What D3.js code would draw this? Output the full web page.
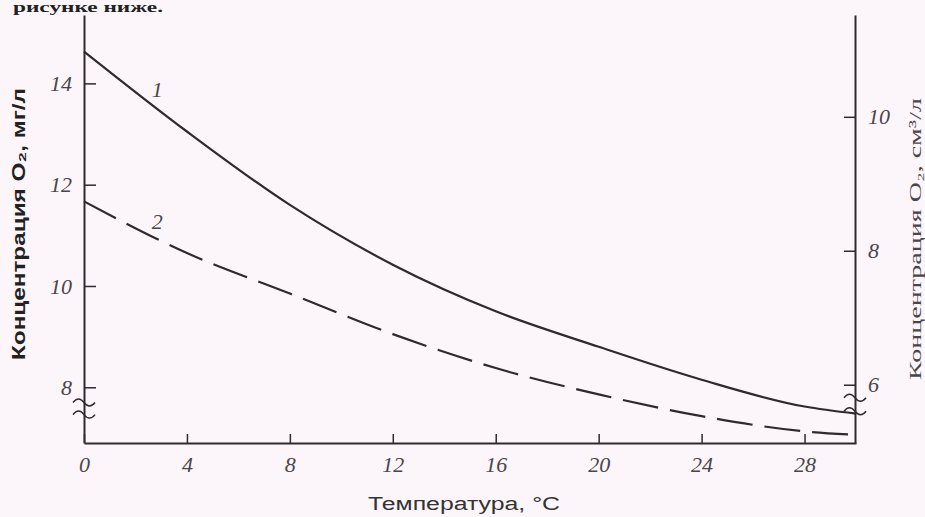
<!DOCTYPE html>
<html>
<head>
<meta charset="utf-8">
<script src="https://cdn.jsdelivr.net/npm/d3@7"></script>
<style>
  html, body { margin: 0; padding: 0; background: #fcf6fa; }
  svg { display: block; }
</style>
</head>
<body>
<script>
// temperature, °C
const temps = [0, 4, 8, 12, 16, 20, 24, 28, 30];
// curve 1 (solid) and curve 2 (dashed), mg/l
const curve1 = [14.63, 13.05, 11.6, 10.42, 9.5, 8.8, 8.15, 7.62, 7.48];
const curve2 = [11.67, 10.65, 9.85, 9.05, 8.38, 7.86, 7.43, 7.13, 7.06];

const xTicks = [0, 4, 8, 12, 16, 20, 24, 28];
const leftTicks = [8, 10, 12, 14];
const rightTicks = [6, 8, 10];

const leftTitle = "Концентрация O₂, мг/л";
const rightTitle = "Концентрация O₂, см³/л";
const xTitle = "Температура, °C";
const topText = "рисунке ниже.";

(function chart() {
  const W = 925, H = 517;
  const margin = { top: 15, right: 70, bottom: 74, left: 84 };
  const plotR = W - margin.right;
  const plotB = H - margin.bottom;

  const svg = d3.select("body").append("svg")
    .attr("width", W).attr("height", H);

  const x = d3.scaleLinear().domain([0, 30]).range([margin.left, plotR + 1]);
  const yL = d3.scaleLinear().domain([6.9, 15.35]).range([plotB, margin.top]);
  const yR = d3.scaleLinear().domain([5.13, 11.52]).range([plotB, margin.top]);

  const ink = "#2e2a2d";
  const labelInk = "#4a4549";
  const fmt = d3.format("d");

  // text from the page above the figure
  svg.append("text")
    .attr("x", 163).attr("y", 12)
    .attr("text-anchor", "end")
    .attr("font-family", "Liberation Serif")
    .attr("font-weight", "bold")
    .attr("font-size", 15)
    .attr("textLength", 150)
    .attr("lengthAdjust", "spacingAndGlyphs")
    .attr("fill", "#222")
    .text(topText);

  const styleAxis = g => {
    g.select(".domain").attr("stroke", ink).attr("stroke-width", 2);
    g.selectAll(".tick line").attr("stroke", ink).attr("stroke-width", 1.5);
    g.selectAll(".tick text")
      .attr("font-family", "Liberation Serif")
      .attr("font-style", "italic")
      .attr("font-size", 22)
      .attr("fill", labelInk);
  };

  svg.append("g")
    .attr("transform", `translate(0,${plotB})`)
    .call(d3.axisBottom(x).tickValues(xTicks).tickFormat(fmt)
      .tickSizeInner(-9).tickSizeOuter(0).tickPadding(13))
    .call(styleAxis);

  svg.append("g")
    .attr("transform", `translate(${margin.left},0)`)
    .call(d3.axisLeft(yL).tickValues(leftTicks).tickFormat(fmt)
      .tickSizeInner(-12).tickSizeOuter(0).tickPadding(12))
    .call(styleAxis);

  svg.append("g")
    .attr("transform", `translate(${plotR},0)`)
    .call(d3.axisRight(yR).tickValues(rightTicks).tickFormat(fmt)
      .tickSizeInner(-11).tickSizeOuter(0).tickPadding(13))
    .call(styleAxis);

  // axis break marks
  const wave = (cx, cy) => `M${cx - 11},${cy + 1} q5.5,-7 11,0 t11,0`;
  const breaks = [
    { cx: margin.left, ys: [yL(7.72), yL(7.48)] },
    { cx: plotR, ys: [yR(5.82), yR(5.62)] }
  ];
  breaks.forEach(b => {
    svg.append("g").selectAll("path")
      .data(b.ys)
      .enter()
      .append("path")
      .attr("d", d => wave(b.cx, d))
      .attr("fill", "none")
      .attr("stroke", ink)
      .attr("stroke-width", 1.5);
  });

  const line = y => d3.line()
    .x((d, i) => x(temps[i]))
    .y(d => y(d))
    .curve(d3.curveMonotoneX);

  svg.append("path")
    .attr("d", line(yL)(curve1))
    .attr("fill", "none")
    .attr("stroke", ink)
    .attr("stroke-width", 2.2);

  svg.append("path")
    .attr("d", line(yL)(curve2))
    .attr("fill", "none")
    .attr("stroke", ink)
    .attr("stroke-width", 2.2)
    .attr("stroke-dasharray", "36,12");

  // curve numbers
  svg.append("g").selectAll("text")
    .data([{ t: "1", T: 2.85, v: 13.88 }, { t: "2", T: 2.85, v: 11.28 }])
    .enter()
    .append("text")
    .attr("x", d => x(d.T))
    .attr("y", d => yL(d.v))
    .attr("dy", "0.35em")
    .attr("text-anchor", "middle")
    .attr("font-family", "Liberation Serif")
    .attr("font-style", "italic")
    .attr("font-size", 22)
    .attr("fill", labelInk)
    .text(d => d.t);

  // axis titles
  svg.append("text")
    .attr("transform", `translate(25,${224}) rotate(-90)`)
    .attr("text-anchor", "middle")
    .attr("font-family", "Liberation Sans")
    .attr("font-weight", "bold")
    .attr("font-size", 18)
    .attr("textLength", 272)
    .attr("lengthAdjust", "spacingAndGlyphs")
    .attr("fill", "#222")
    .text(leftTitle);

  svg.append("text")
    .attr("transform", `translate(921,${239}) rotate(-90)`)
    .attr("text-anchor", "middle")
    .attr("font-family", "Liberation Serif")
    .attr("font-size", 17)
    .attr("textLength", 282)
    .attr("lengthAdjust", "spacingAndGlyphs")
    .attr("fill", labelInk)
    .text(rightTitle);

  svg.append("text")
    .attr("x", 464).attr("y", 510)
    .attr("text-anchor", "middle")
    .attr("font-family", "Liberation Sans")
    .attr("font-size", 18)
    .attr("textLength", 192)
    .attr("lengthAdjust", "spacingAndGlyphs")
    .attr("fill", "#333")
    .text(xTitle);
})();
</script>
</body>
</html>
